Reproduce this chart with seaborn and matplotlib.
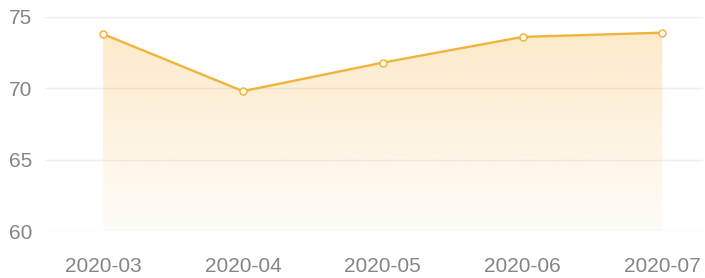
import matplotlib
matplotlib.use("Agg")
import matplotlib.pyplot as plt
import seaborn as sns
import pandas as pd
import numpy as np

# chart data
months = ["2020-03", "2020-04", "2020-05", "2020-06", "2020-07"]
values = [73.8, 69.8, 71.8, 73.6, 73.9]
y_ticks = [60, 65, 70, 75]

df = pd.DataFrame({"month": months, "value": values})
df["pos"] = np.arange(len(months))

line_color = "#efb43c"
fill_color = "#f9c46a"

sns.set_style("white")
plt.rcParams["font.family"] = ["Liberation Sans", "DejaVu Sans"]

fig = plt.figure(figsize=(7.05, 2.78), dpi=100)
ax = fig.add_axes([0.064, 0.169, 0.933, 0.770])

# gradient area under the line
fill = ax.fill_between(df["pos"], df["value"], 60, color="none", lw=0)
rgba = np.zeros((256, 1, 4))
r, g, b = matplotlib.colors.to_rgb(fill_color)
rgba[..., 0], rgba[..., 1], rgba[..., 2] = r, g, b
rgba[..., 3] = np.linspace(0.36, 0.05, 256)[:, None]
img = ax.imshow(rgba, aspect="auto", origin="upper",
                extent=[df["pos"].min(), df["pos"].max(), 60, max(values)],
                zorder=1)
img.set_clip_path(fill.get_paths()[0], transform=ax.transData)

sns.lineplot(data=df, x="pos", y="value", ax=ax, color=line_color,
             linewidth=1.7, marker="o", markersize=5, markerfacecolor="white",
             markeredgecolor=line_color, markeredgewidth=1.1, zorder=3)

ax.set_xlim(-0.415, 4.29)
ax.set_ylim(60, 75)
ax.set_yticks(y_ticks)
ax.set_xticks(df["pos"])
ax.set_xticklabels(months)
ax.set_xlabel("")
ax.set_ylabel("")
ax.grid(axis="y", color="#efefef", linewidth=1)
ax.grid(axis="x", visible=False)
for s in ax.spines.values():
    s.set_visible(False)
ax.tick_params(axis="y", length=0, pad=9, labelsize=15, labelcolor="#858585")
ax.tick_params(axis="x", length=5, color="#e8e8e8", pad=14, labelsize=15,
               labelcolor="#858585")
ax.set_axisbelow(True)

fig.savefig("out.png", dpi=100)
